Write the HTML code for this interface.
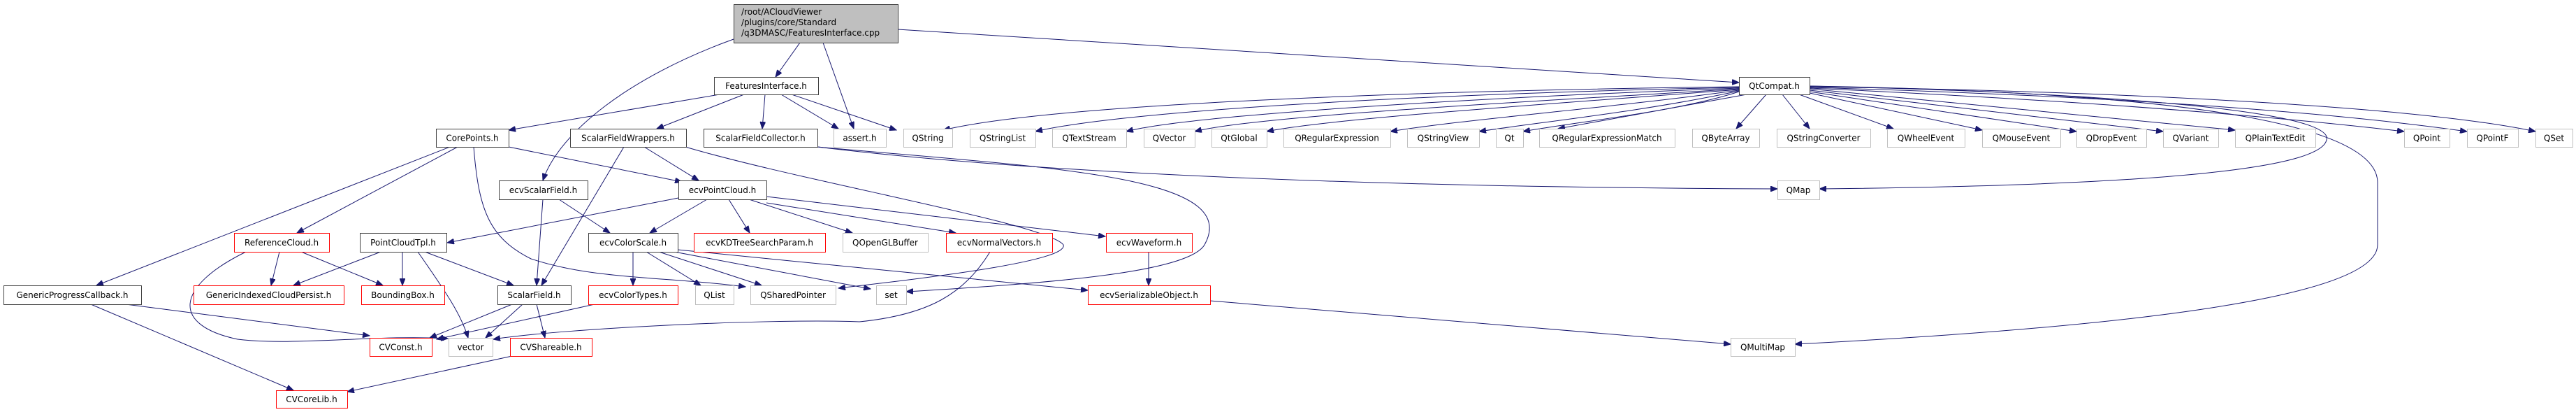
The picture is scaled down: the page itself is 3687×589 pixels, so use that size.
<!DOCTYPE html>
<html><head><meta charset="utf-8"><style>
html,body{margin:0;padding:0;background:#fff;}
svg{display:block;}
text{font-family:"DejaVu Sans","Liberation Sans",sans-serif;font-size:12px;fill:#000;}
</style></head><body>
<svg width="3687" height="589" viewBox="0 0 3687 589" xmlns="http://www.w3.org/2000/svg">
<defs>
<marker id="a" markerWidth="11" markerHeight="8" refX="10" refY="4" orient="auto" markerUnits="userSpaceOnUse">
<path d="M0,0 L10,4 L0,8 z" fill="#191970" stroke="#191970"/></marker>
</defs>
<g fill="none" stroke="#191970" stroke-width="1" marker-end="url(#a)">
<!-- root -->
<path d="M1145,61 L1110,110"/>
<path d="M1178,61 L1222,184"/>
<path d="M1285,42 L2489,118"/>
<path d="M1050,56 C900,110 800,190 777,258"/>
<!-- FeaturesInterface -->
<path d="M1030,135 L728,186"/>
<path d="M1065,135 L940,184"/>
<path d="M1095,135 L1091,184"/>
<path d="M1118,135 L1200,184"/>
<path d="M1133,135 L1283,186"/>
<!-- CorePoints -->
<path d="M644,210 L138,408"/>
<path d="M655,210 L425,333"/>
<path d="M728,210 L976,260"/>
<path d="M678,210 C685,300 700,340 760,370 C850,400 950,395 1067,410"/>
<!-- ScalarFieldWrappers -->
<path d="M922,210 L1000,258"/>
<path d="M893,210 L775,408"/>
<path d="M981,210 C1150,260 1500,320 1522,350 C1530,372 1350,395 1200,412"/>
<!-- ScalarFieldCollector -->
<path d="M1170,210 C1500,240 1780,250 1724,350 C1700,390 1500,405 1297,417"/>
<path d="M1170,210 C1500,250 2000,268 2544,270"/>
<!-- ecvScalarField -->
<path d="M777,285 L768,408"/>
<path d="M800,285 L873,333"/>
<!-- ecvPointCloud -->
<path d="M971,283 L640,347"/>
<path d="M1012,285 L930,333"/>
<path d="M1043,285 L1073,333"/>
<path d="M1072,285 L1220,333"/>
<path d="M1097,290 L1368,333"/>
<path d="M1097,281 L1582,338"/>
<!-- ReferenceCloud -->
<path d="M400,360 L388,408"/>
<path d="M431,360 L548,408"/>
<path d="M352,360 C250,410 245,465 340,485 C420,495 540,478 641,484"/>
<!-- PointCloudTpl -->
<path d="M545,360 L420,408"/>
<path d="M576,360 L576,408"/>
<path d="M608,360 L735,408"/>
<path d="M598,360 C640,420 660,450 670,483"/>
<!-- ecvColorScale -->
<path d="M906,360 L906,408"/>
<path d="M925,360 L1003,408"/>
<path d="M943,360 L1090,408"/>
<path d="M965,360 L1246,413"/>
<path d="M970,357 L1557,415"/>
<!-- others -->
<path d="M1417,360 C1380,420 1330,450 1230,460 C1100,455 800,470 706,485"/>
<path d="M1644,360 L1644,408"/>
<path d="M1732,430 L2477,492"/>
<path d="M180,435 L529,480"/>
<path d="M130,435 L420,558"/>
<path d="M733,435 L615,483"/>
<path d="M748,435 L695,483"/>
<path d="M768,435 L780,483"/>
<path d="M851,435 L625,485"/>
<path d="M733,509 L497,560"/>
<!-- QtCompat -->
<path d="M2489,124 C2000,130 1500,150 1350,186"/>
<path d="M2489,125 C2000,135 1600,160 1482,188"/>
<path d="M2489,126 C2100,140 1700,165 1612,188"/>
<path d="M2489,127 C2200,145 1800,165 1710,188"/>
<path d="M2489,128 C2200,150 1900,170 1813,188"/>
<path d="M2489,129 C2300,155 2100,170 1990,188"/>
<path d="M2489,130 C2350,160 2200,175 2117,188"/>
<path d="M2489,131 C2400,160 2250,175 2180,188"/>
<path d="M2500,135 L2230,184"/>
<path d="M2528,135 L2485,184"/>
<path d="M2551,135 L2590,184"/>
<path d="M2575,135 L2710,184"/>
<path d="M2590,133 L2837,186"/>
<path d="M2590,131 L2972,188"/>
<path d="M2590,129 L3096,188"/>
<path d="M2590,127 L3199,186"/>
<path d="M2590,126 C2900,140 3200,160 3441,188"/>
<path d="M2590,125 C2950,135 3300,155 3531,188"/>
<path d="M2590,124 C3000,130 3450,150 3629,188"/>
<path d="M2590,123 C2900,130 3310,150 3330,195 C3340,240 3100,265 2604,270"/>
<path d="M2590,123 C3000,130 3400,160 3403,260 L3403,350 C3403,430 3000,470 2569,492"/>
</g>
<g stroke-width="1">
<rect x="1050.5" y="6.5" width="235" height="55" fill="#bfbfbf" stroke="#404040"/>
</g>
<text x="1061" y="21">/root/ACloudViewer</text>
<text x="1061" y="36">/plugins/core/Standard</text>
<text x="1061" y="51">/q3DMASC/FeaturesInterface.cpp</text>
<g id="boxes" text-anchor="middle"></g>
<script>
const B=[
[1022,1171,110,135,'k','FeaturesInterface.h'],
[2489,2590,110,135,'k','QtCompat.h'],
[624,728,184,210,'k','CorePoints.h'],
[816,982,184,210,'k','ScalarFieldWrappers.h'],
[1007,1170,184,210,'k','ScalarFieldCollector.h'],
[1193,1268,184,210,'g','assert.h'],
[1293,1363,184,210,'g','QString'],
[1388,1482,184,210,'g','QStringList'],
[1506,1612,184,210,'g','QTextStream'],
[1637,1710,184,210,'g','QVector'],
[1734,1813,184,210,'g','QtGlobal'],
[1837,1990,184,210,'g','QRegularExpression'],
[2014,2117,184,210,'g','QStringView'],
[2141,2180,184,210,'g','Qt'],
[2203,2397,184,210,'g','QRegularExpressionMatch'],
[2422,2518,184,210,'g','QByteArray'],
[2543,2677,184,210,'g','QStringConverter'],
[2701,2812,184,210,'g','QWheelEvent'],
[2837,2949,184,210,'g','QMouseEvent'],
[2972,3072,184,210,'g','QDropEvent'],
[3096,3175,184,210,'g','QVariant'],
[3199,3314,184,210,'g','QPlainTextEdit'],
[3441,3506,184,210,'g','QPoint'],
[3531,3604,184,210,'g','QPointF'],
[3629,3682,184,210,'g','QSet'],
[714,841,258,285,'k','ecvScalarField.h'],
[971,1097,258,285,'k','ecvPointCloud.h'],
[2544,2604,258,285,'g','QMap'],
[335,471,333,360,'r','ReferenceCloud.h'],
[515,639,333,360,'k','PointCloudTpl.h'],
[842,970,333,360,'k','ecvColorScale.h'],
[993,1181,333,360,'r','ecvKDTreeSearchParam.h'],
[1206,1328,333,360,'g','QOpenGLBuffer'],
[1354,1506,333,360,'r','ecvNormalVectors.h'],
[1583,1706,333,360,'r','ecvWaveform.h'],
[5,202,408,435,'k','GenericProgressCallback.h'],
[277,492,408,435,'r','GenericIndexedCloudPersist.h'],
[517,636,408,435,'r','BoundingBox.h'],
[712,817,408,435,'k','ScalarField.h'],
[842,970,408,435,'r','ecvColorTypes.h'],
[995,1050,408,435,'g','QList'],
[1074,1196,408,435,'g','QSharedPointer'],
[1254,1297,408,435,'g','set'],
[1557,1732,408,435,'r','ecvSerializableObject.h'],
[529,618,483,509,'r','CVConst.h'],
[642,705,483,509,'g','vector'],
[730,847,483,509,'r','CVShareable.h'],
[2477,2569,483,509,'g','QMultiMap'],
[395,497,558,583,'r','CVCoreLib.h']];
const g=document.getElementById('boxes');const ns='http://www.w3.org/2000/svg';
const col={k:'#404040',r:'#ff0000',g:'#bfbfbf'};
for(const b of B){const r=document.createElementNS(ns,'rect');
r.setAttribute('x',b[0]+.5);r.setAttribute('y',b[2]+.5);r.setAttribute('width',b[1]-b[0]);r.setAttribute('height',b[3]-b[2]);
r.setAttribute('fill','#fff');r.setAttribute('stroke',col[b[4]]);g.appendChild(r);
const t=document.createElementNS(ns,'text');t.setAttribute('x',(b[0]+b[1])/2);t.setAttribute('y',(b[2]+b[3])/2+4.5);t.textContent=b[5];g.appendChild(t);}
</script>
</svg>
</body></html>
